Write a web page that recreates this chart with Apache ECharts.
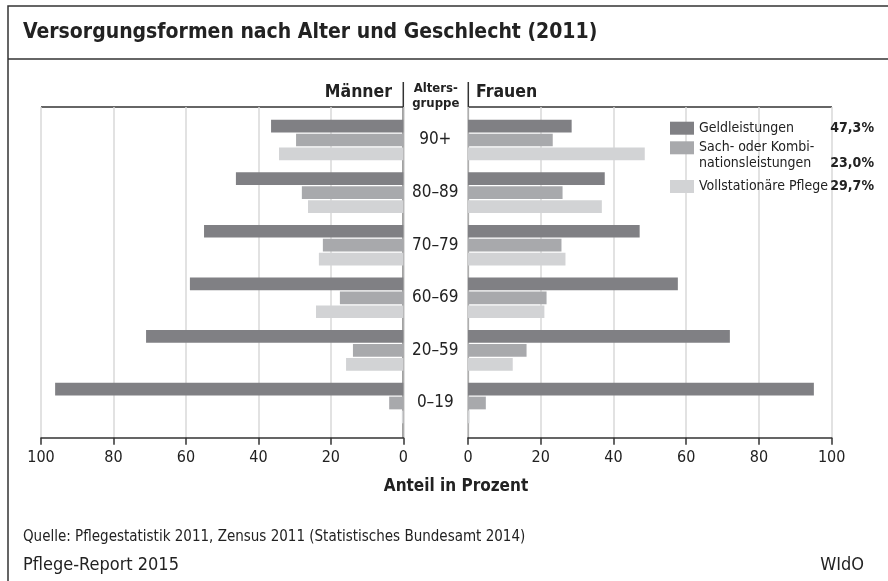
<!DOCTYPE html>
<html>
<head>
<meta charset="utf-8">
<script src="https://cdn.jsdelivr.net/npm/echarts@6/dist/echarts.min.js"></script>
<style>
  html, body { margin: 0; padding: 0; background: #fff; }
  #main { width: 888px; height: 581px; }
</style>
</head>
<body>
<div id="main"></div>
<script>
// Daten
const ageGroups = ['90+', '80–89', '70–79', '60–69', '20–59', '0–19'];
const seriesNames = ['Geldleistungen', 'Sach- oder Kombinationsleistungen', 'Vollstationäre Pflege'];
const shareTotal = ['47,3%', '23,0%', '29,7%'];
const menGeld = [36.5, 46.2, 55.0, 58.9, 71.0, 96.1];
const menSach = [29.6, 28.0, 22.2, 17.5, 13.9, 3.9];
const menVoll = [34.3, 26.3, 23.3, 24.1, 15.8, 0.4];
const womenGeld = [28.5, 37.6, 47.2, 57.7, 72.0, 95.1];
const womenSach = [23.3, 26.0, 25.7, 21.6, 16.1, 4.9];
const womenVoll = [48.6, 36.8, 26.8, 21.0, 12.3, 0.4];
const xTicks = [0, 20, 40, 60, 80, 100];

const colors = ['#808084', '#a8a9ac', '#d2d3d5'];
const FONT = "'Liberation Sans Narrow', 'DejaVu Sans Condensed', sans-serif";
const TXT = '#222';
const LINE = '#333';

const chart = echarts.init(document.getElementById('main'));

function barSeries(name, data, idx, side) {
  return {
    name: name,
    type: 'bar',
    xAxisIndex: side,
    yAxisIndex: side,
    data: data,
    barWidth: 12.7,
    barGap: '10%',
    itemStyle: { color: colors[idx] },
    emphasis: { disabled: true }
  };
}

function frameAxis(gridIndex, inverse) {
  return {
    type: 'value', gridIndex: gridIndex, inverse: inverse,
    min: xTicks[0], max: xTicks[xTicks.length - 1], interval: 20,
    axisLine: { show: true, lineStyle: { color: LINE, width: 1.5 } },
    axisTick: { show: true, length: 7, lineStyle: { color: LINE, width: 1.5 } },
    axisLabel: { color: TXT, fontSize: 16, fontFamily: FONT, margin: 12 },
    splitLine: { show: true, lineStyle: { color: '#d9d9d9', width: 1.5 } }
  };
}

function legendFor(i, top, text) {
  return {
    show: true, data: [seriesNames[i]], orient: 'vertical',
    left: 670, top: top, padding: 0,
    itemWidth: 24, itemHeight: 13, icon: 'rect',
    selectedMode: false,
    formatter: function () { return text; },
    textStyle: {
      color: TXT, fontFamily: FONT, fontSize: 14,
      rich: {
        n: { width: 130, fontSize: 14, fontFamily: FONT, color: TXT, lineHeight: 16 },
        p: { width: 45, align: 'right', fontSize: 14, fontWeight: 'bold', fontFamily: FONT, color: TXT, lineHeight: 16 }
      }
    }
  };
}

function txt(x, y, text, size, weight, align) {
  return {
    type: 'text', x: x, y: y, silent: true,
    style: { text: text, fill: TXT, font: (weight || 'normal') + ' ' + size + 'px ' + FONT, align: align || 'left', verticalAlign: 'middle' }
  };
}
function ln(x1, y1, x2, y2, w, c) {
  return { type: 'line', silent: true, shape: { x1: x1, y1: y1, x2: x2, y2: y2 }, style: { stroke: c || LINE, lineWidth: w || 1.5 } };
}

chart.setOption({
  animation: false,
  textStyle: { fontFamily: FONT },
  grid: [
    { left: 41, width: 362.3, top: 113.7, height: 315.6 },
    { left: 468, width: 363.7, top: 113.7, height: 315.6 },
    { left: 41, width: 362.3, top: 107, height: 330.7 },
    { left: 468, width: 363.7, top: 107, height: 330.7 }
  ],
  xAxis: [
    { type: 'value', gridIndex: 0, inverse: true, min: 0, max: 100, show: false },
    { type: 'value', gridIndex: 1, min: 0, max: 100, show: false },
    frameAxis(2, true),
    frameAxis(3, false)
  ],
  yAxis: [
    {
      type: 'category', gridIndex: 0, data: ageGroups, inverse: true, position: 'right',
      axisLine: { show: false }, axisTick: { show: false },
      axisLabel: { color: TXT, fontSize: 17, fontFamily: FONT, align: 'center', margin: 32 }
    },
    { type: 'category', gridIndex: 1, data: ageGroups, inverse: true, show: false },
    { type: 'value', gridIndex: 2, min: 0, max: 1, show: false },
    { type: 'value', gridIndex: 3, min: 0, max: 1, show: false }
  ],
  legend: [
    legendFor(0, 121.2, '{n|' + seriesNames[0] + '}{p|' + shareTotal[0] + '}'),
    legendFor(1, 124.8, '{n| }\n{n|Sach- oder Kombi-}\n{n|nationsleistungen}{p|' + shareTotal[1] + '}'),
    legendFor(2, 179.5, '{n|' + seriesNames[2] + '}{p|' + shareTotal[2] + '}')
  ],
  series: [
    barSeries(seriesNames[0], menGeld, 0, 0),
    barSeries(seriesNames[1], menSach, 1, 0),
    barSeries(seriesNames[2], menVoll, 2, 0),
    barSeries(seriesNames[0], womenGeld, 0, 1),
    barSeries(seriesNames[1], womenSach, 1, 1),
    barSeries(seriesNames[2], womenVoll, 2, 1)
  ],
  graphic: [
    // Rahmen
    { type: 'polyline', silent: true, shape: { points: [[888, 6], [8, 6], [8, 581]] }, style: { stroke: LINE, lineWidth: 1.5, fill: null } },
    ln(8, 59, 888, 59),
    txt(23, 33, 'Versorgungsformen nach Alter und Geschlecht (2011)', 21, 'bold'),
    // Kopfzeile
    ln(41, 107, 403.3, 107),
    ln(468.3, 107, 832, 107),
    ln(403.3, 82, 403.3, 438),
    ln(468.3, 82, 468.3, 438),
    txt(392, 92, 'Männer', 17.5, 'bold', 'right'),
    txt(476, 92, 'Frauen', 17.5, 'bold'),
    txt(435.8, 89, 'Alters-', 13, 'bold', 'center'),
    txt(435.8, 104, 'gruppe', 13, 'bold', 'center'),
    txt(456, 487, 'Anteil in Prozent', 17, 'bold', 'center'),
    // Fusszeile
    txt(23, 537, 'Quelle: Pflegestatistik 2011, Zensus 2011 (Statistisches Bundesamt 2014)', 15),
    txt(23, 565, 'Pflege-Report 2015', 18),
    txt(864, 565, 'WIdO', 18, 'normal', 'right')
  ]
});
</script>
</body>
</html>
